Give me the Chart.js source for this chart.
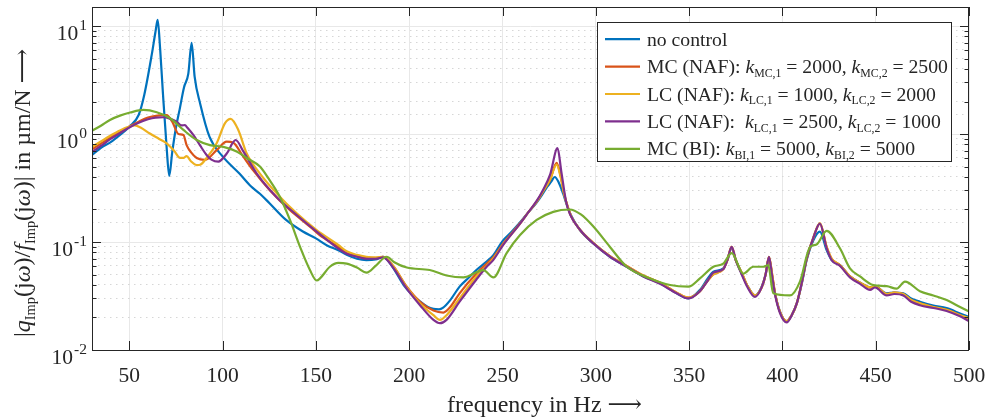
<!DOCTYPE html>
<html>
<head>
<meta charset="utf-8">
<script src="https://cdn.jsdelivr.net/npm/chart.js@4/dist/chart.umd.min.js"></script>
<style>
  html, body { margin: 0; padding: 0; background: #fff; }
  canvas { display: block; }
</style>
</head>
<body>
<canvas id="myChart" width="985" height="419"></canvas>
<script>
// frequency axis (Hz) and magnitude |q/f| (um/N) for each measurement
const fNoControl = [
  30, 35, 40, 45, 50, 55, 58, 62, 64, 65.2,
  66.5, 68, 70, 71.4, 73, 75, 77, 79.3, 81.6, 83.4,
  85, 88, 93, 100, 109, 115, 120, 125, 134, 143,
  150, 156, 162, 166.5, 172, 177, 182, 186, 191, 197,
  202, 206, 210, 213, 216, 218, 222, 227, 232, 236,
  241.5, 245, 250, 255, 259, 264, 268, 271, 274, 276,
  278, 280, 282.5, 284.5, 286.5, 291.5, 298.7, 307.6, 316.6, 325.5,
  334.4, 343.3, 349.6, 355.8, 360, 363, 368.3, 370.5, 372.8, 375,
  378.2, 381, 385.3, 388.9, 391, 392.8, 394.5, 396, 398.7, 402.3,
  405, 407.7, 410.5, 413, 416.6, 420.1, 423.7, 426.4, 430.9, 436.2,
  441.6, 447, 449.6, 455.9, 460, 464.8, 469, 473.7, 480.9, 488,
  495.2, 500
];
const magNoControl = [
  0.64, 0.75, 0.84, 0.98, 1.17, 1.5, 2.3, 5.4, 8.8, 11.4,
  6.2, 2.4, 0.75, 0.41, 0.68, 1.15, 1.7, 2.7, 3.6, 7.0,
  3.4, 1.9, 0.94, 0.62, 0.43, 0.33, 0.28, 0.23, 0.16, 0.125,
  0.108, 0.093, 0.084, 0.076, 0.07, 0.068, 0.069, 0.073, 0.059, 0.04,
  0.032, 0.028, 0.025, 0.024, 0.0238, 0.0245, 0.029, 0.0386, 0.047, 0.055,
  0.066, 0.075, 0.102, 0.125, 0.149, 0.19, 0.228, 0.27, 0.325, 0.36,
  0.40, 0.36, 0.28, 0.22, 0.18, 0.129, 0.097, 0.073, 0.059, 0.048,
  0.0414, 0.0335, 0.030, 0.036, 0.046, 0.053, 0.057, 0.068, 0.0875, 0.068,
  0.051, 0.04, 0.032, 0.0386, 0.05, 0.071, 0.048, 0.0335, 0.0227, 0.0183,
  0.021, 0.027, 0.042, 0.068, 0.104, 0.125, 0.084, 0.068, 0.061, 0.048,
  0.042, 0.038, 0.039, 0.0335, 0.034, 0.0335, 0.03, 0.028, 0.0258, 0.0244,
  0.0218, 0.0202
];

const fMcNaf = [
  30, 35, 40, 45, 50, 55, 60, 65, 70, 73,
  76.3, 79, 80.7, 83, 86.1, 90.6, 96.8, 102.2, 105.7, 111,
  116.4, 125.4, 136, 146.8, 152, 162, 166.5, 172, 177, 182,
  186, 191.4, 198.7, 205.8, 213, 218.3, 222, 227, 236, 241.5,
  245, 250.4, 259.4, 264, 268.3, 272, 275.5, 279, 281, 283,
  285, 287, 291.5, 298.7, 307.6, 316.6, 325.5, 334.4, 343.3, 349.6,
  355.8, 360, 363, 368.3, 370.5, 372.8, 375, 378.2, 381, 385.3,
  388.9, 391, 392.8, 394.5, 396, 398.7, 402.3, 405, 407.7, 410.5,
  413, 416.6, 420.1, 423.7, 426.4, 430.9, 436.2, 441.6, 447, 449.6,
  455.9, 460, 464.8, 469, 473.7, 480.9, 488, 495.2, 500
];
const magMcNaf = [
  0.72, 0.82, 0.93, 1.05, 1.17, 1.3, 1.42, 1.48, 1.5, 1.3,
  1.0, 0.98, 0.79, 0.68, 0.60, 0.575, 0.71, 0.85, 0.83, 0.62,
  0.46, 0.30, 0.198, 0.139, 0.116, 0.090, 0.079, 0.074, 0.072, 0.071,
  0.073, 0.06, 0.0386, 0.028, 0.0232, 0.0222, 0.025, 0.0335, 0.051, 0.063,
  0.072, 0.097, 0.149, 0.19, 0.236, 0.3, 0.375, 0.54, 0.42, 0.28,
  0.21, 0.17, 0.13, 0.098, 0.074, 0.06, 0.049, 0.042, 0.034, 0.0305,
  0.035, 0.044, 0.05, 0.056, 0.068, 0.09, 0.068, 0.052, 0.04, 0.032,
  0.038, 0.05, 0.073, 0.05, 0.034, 0.0225, 0.0185, 0.021, 0.027, 0.043,
  0.07, 0.11, 0.148, 0.09, 0.07, 0.061, 0.048, 0.042, 0.038, 0.039,
  0.033, 0.034, 0.033, 0.029, 0.027, 0.025, 0.0235, 0.021, 0.0195
];

const fLcA = [
  30, 35, 40, 45, 50, 53, 56, 61, 66, 70,
  74, 77.2, 79, 80.7, 83, 86.1, 88, 91.4, 96.8, 101.3,
  104.3, 108.4, 112.9, 120, 129, 139.7, 150.4, 162, 166.5, 172,
  177, 182, 186, 191.4, 198.7, 205.8, 213, 216.5, 220, 227,
  236, 241.5, 245, 250.4, 259.4, 264, 268.3, 272, 275.5, 279,
  281, 283, 285, 287, 291.5, 298.7, 307.6, 316.6, 325.5, 334.4,
  343.3, 349.6, 355.8, 360, 363, 368.3, 370.5, 372.8, 375, 378.2,
  381, 385.3, 388.9, 391, 392.8, 394.5, 396, 398.7, 402.3, 405,
  407.7, 410.5, 413, 416.6, 420.1, 423.7, 426.4, 430.9, 436.2, 441.6,
  447, 449.6, 455.9, 460, 464.8, 469, 473.7, 480.9, 488, 495.2,
  500
];
const magLcA = [
  0.76, 0.86, 0.97, 1.08, 1.17, 1.2, 1.15, 1.01, 0.9, 0.82,
  0.7, 0.60, 0.6, 0.625, 0.56, 0.516, 0.52, 0.60, 0.82, 1.26,
  1.38, 1.09, 0.66, 0.43, 0.282, 0.184, 0.129, 0.094, 0.082, 0.076,
  0.073, 0.072, 0.073, 0.06, 0.038, 0.027, 0.021, 0.019, 0.021, 0.03,
  0.048, 0.06, 0.07, 0.095, 0.148, 0.19, 0.236, 0.3, 0.38, 0.52,
  0.41, 0.28, 0.21, 0.17, 0.13, 0.098, 0.074, 0.06, 0.049, 0.042,
  0.034, 0.0305, 0.035, 0.044, 0.05, 0.056, 0.068, 0.09, 0.068, 0.052,
  0.04, 0.032, 0.038, 0.05, 0.073, 0.05, 0.034, 0.0225, 0.0185, 0.021,
  0.027, 0.043, 0.07, 0.11, 0.15, 0.09, 0.07, 0.061, 0.048, 0.042,
  0.038, 0.039, 0.033, 0.034, 0.033, 0.029, 0.027, 0.025, 0.0235, 0.021,
  0.0198
];

const fLcB = [
  30, 35, 40, 45, 50, 55, 60, 64, 68.2, 72,
  75.4, 78, 79.8, 81, 84.3, 88, 91.4, 94, 97.7, 102.2,
  107, 111.1, 118.3, 129, 139.7, 150.4, 162, 166.5, 172, 177,
  182, 186, 191.4, 198.7, 205.8, 213, 216.5, 220, 227, 236,
  241.5, 245, 250.4, 259.4, 264, 268.3, 272, 275.5, 279.5, 281.5,
  284, 286.2, 291.5, 298.7, 307.6, 316.6, 325.5, 334.4, 343.3, 349.6,
  355.8, 360, 363, 368.3, 370.5, 372.8, 375, 378.2, 381, 385.3,
  388.9, 391, 392.8, 394.5, 396, 398.7, 402.3, 405, 407.7, 410.5,
  413, 416.6, 420.1, 423.7, 426.4, 430.9, 436.2, 441.6, 447, 449.6,
  455.9, 460, 464.8, 469, 473.7, 480.9, 488, 495.2, 500
];
const magLcB = [
  0.68, 0.78, 0.9, 1.02, 1.15, 1.27, 1.37, 1.42, 1.43, 1.38,
  1.30, 1.2, 1.21, 1.15, 0.98, 0.78, 0.64, 0.58, 0.555, 0.66,
  0.88, 0.69, 0.43, 0.26, 0.178, 0.125, 0.087, 0.078, 0.073, 0.07,
  0.07, 0.072, 0.058, 0.037, 0.026, 0.019, 0.0177, 0.019, 0.028, 0.045,
  0.059, 0.068, 0.094, 0.148, 0.19, 0.24, 0.31, 0.42, 0.74, 0.45,
  0.24, 0.18, 0.13, 0.097, 0.073, 0.059, 0.048, 0.041, 0.0335, 0.030,
  0.035, 0.044, 0.052, 0.056, 0.068, 0.09, 0.068, 0.05, 0.039, 0.031,
  0.038, 0.05, 0.073, 0.048, 0.033, 0.022, 0.018, 0.021, 0.027, 0.043,
  0.07, 0.11, 0.148, 0.088, 0.068, 0.06, 0.047, 0.041, 0.036, 0.038,
  0.032, 0.033, 0.032, 0.028, 0.026, 0.0245, 0.023, 0.0205, 0.0185
];

const fMcBi = [
  30, 35, 39.6, 45, 50.4, 57.5, 64.7, 71.8, 79, 86.1,
  93.2, 100.4, 107.5, 112.9, 120, 124.5, 130.8, 136.1, 141.5, 146.8,
  150.4, 152.2, 157.5, 162, 166.5, 172, 177.2, 182, 187.9, 192,
  198.7, 211, 220, 229, 239.7, 245.1, 252.2, 259.4, 268.3, 277.2,
  286, 292, 298.7, 307.6, 316.6, 329.1, 339.8, 349.6, 355.8, 363,
  368.3, 372.8, 379, 384.4, 389.7, 392.4, 395.1, 404, 409.4, 414.8,
  418.3, 423.7, 430.9, 436.2, 441.6, 448.7, 455.9, 461.2, 465.7, 473.7,
  480.9, 488, 495.2, 500
];
const magMcBi = [
  1.07, 1.2, 1.35, 1.48, 1.58, 1.67, 1.59, 1.40, 1.09, 0.88,
  0.79, 0.76, 0.69, 0.60, 0.50, 0.39, 0.26, 0.16, 0.090, 0.055,
  0.044, 0.046, 0.059, 0.064, 0.063, 0.058, 0.052, 0.06, 0.073, 0.065,
  0.058, 0.055, 0.049, 0.047, 0.055, 0.047, 0.079, 0.116, 0.16, 0.19,
  0.20, 0.18, 0.139, 0.090, 0.059, 0.046, 0.040, 0.0386, 0.046, 0.059,
  0.063, 0.079, 0.051, 0.059, 0.059, 0.061, 0.0335, 0.032, 0.043, 0.090,
  0.095, 0.127, 0.087, 0.057, 0.048, 0.040, 0.039, 0.037, 0.043, 0.035,
  0.032, 0.029, 0.025, 0.0227
];

const xTicks = [50, 100, 150, 200, 250, 300, 350, 400, 450, 500];
const yDecades = [-2, -1, 0, 1];

// legend text, split in runs so the subscripts can be drawn smaller
const legendText = [
  [{ t: "no control" }],
  [{ t: "MC (NAF): " }, { t: "k", it: 1 }, { t: "MC,1", sub: 1 }, { t: " = 2000, " }, { t: "k", it: 1 }, { t: "MC,2", sub: 1 }, { t: " = 2500" }],
  [{ t: "LC (NAF): " }, { t: "k", it: 1 }, { t: "LC,1", sub: 1 }, { t: " = 1000, " }, { t: "k", it: 1 }, { t: "LC,2", sub: 1 }, { t: " = 2000" }],
  [{ t: "LC (NAF):  " }, { t: "k", it: 1 }, { t: "LC,1", sub: 1 }, { t: " = 2500, " }, { t: "k", it: 1 }, { t: "LC,2", sub: 1 }, { t: " = 1000" }],
  [{ t: "MC (BI): " }, { t: "k", it: 1 }, { t: "BI,1", sub: 1 }, { t: " = 5000, " }, { t: "k", it: 1 }, { t: "BI,2", sub: 1 }, { t: " = 5000" }]
];
const yTitle = [
  { t: "|" }, { t: "q", it: 1 }, { t: "Imp", sub: 1 }, { t: "(j" }, { t: "ω", it: 1 }, { t: ")/" },
  { t: "f", it: 1 }, { t: "Imp", sub: 1 }, { t: "(j" }, { t: "ω", it: 1 }, { t: ")| in µm/N " }, { t: "⟶" }
];
const xTitle = [{ t: "frequency in Hz " }, { t: "⟶" }];

const colors = ["#0072BD", "#D95319", "#EDB120", "#7E2F8E", "#77AC30"];
const FONT = '"Liberation Serif", "Times New Roman", "DejaVu Serif", serif';
const AXIS = "#262626";

function font(size, italic) {
  return (italic ? "italic " : "") + size + "px " + FONT;
}

//draws a line of text made of runs (italic / subscript parts)
function drawRuns(ctx, x, y, runs, size) {
  runs.forEach(function(r) {
    const s = r.sub ? size * 0.6 : size;
    ctx.font = font(s, r.it);
    ctx.fillText(r.t, x, y + (r.sub ? size * 0.2 : 0));
    x += ctx.measureText(r.t).width;
  });
  return x;
}

function isDecade(v) {
  if (!v) return false;
  const l = Math.log10(v);
  return Math.abs(l - Math.round(l)) < 1e-6;
}

function toPoints(f, m) {
  return f.map(function(x, i) {
    return { x: x, y: m[i] };
  });
}

//box, inside ticks, y labels, titles and legend like the matlab figure
const matlabLook = {
  id: "matlabLook",
  afterDatasetsDraw(chart) {
    const ctx = chart.ctx;
    const a = chart.chartArea;
    const xs = chart.scales.x;
    const ys = chart.scales.y;
    ctx.save();
    ctx.strokeStyle = AXIS;
    ctx.lineWidth = 1;
    ctx.strokeRect(Math.round(a.left) + 0.5, Math.round(a.top) + 0.5,
      Math.round(a.right - a.left) - 1, Math.round(a.bottom - a.top));

    ctx.beginPath();
    xTicks.forEach(function(v) {
      const px = Math.round(xs.getPixelForValue(v)) + 0.5;
      ctx.moveTo(px, a.bottom); ctx.lineTo(px, a.bottom - 9);
      ctx.moveTo(px, a.top); ctx.lineTo(px, a.top + 9);
    });
    yDecades.forEach(function(d) {
      for (let k = 1; k <= 9; k++) {
        const v = k * Math.pow(10, d);
        if (v > ys.max) break;
        const py = Math.round(ys.getPixelForValue(v)) + 0.5;
        const len = k === 1 ? 9 : 4.5;
        ctx.moveTo(a.left, py); ctx.lineTo(a.left + len, py);
        ctx.moveTo(a.right, py); ctx.lineTo(a.right - len, py);
      }
    });
    ctx.stroke();

    // y tick labels 10^d
    ctx.fillStyle = AXIS;
    ctx.textBaseline = "alphabetic";
    yDecades.forEach(function(d) {
      const py = ys.getPixelForValue(Math.pow(10, d));
      ctx.font = font(21.5);
      const w1 = ctx.measureText("10").width;
      ctx.font = font(15.5);
      const w2 = ctx.measureText(String(d)).width;
      const x0 = 86 - w1 - w2;
      ctx.font = font(21.5);
      ctx.fillText("10", x0, py + 13.5);
      ctx.font = font(15.5);
      ctx.fillText(String(d), x0 + w1 + 1, py + 4);
    });

    // axis titles
    drawRuns(ctx, 447, 412, xTitle, 24);
    ctx.save();
    ctx.translate(30, 337);
    ctx.rotate(-Math.PI / 2);
    drawRuns(ctx, 0, 0, yTitle, 24);
    ctx.restore();

    // legend
    ctx.fillStyle = "#fff";
    ctx.fillRect(597.5, 22.5, 354, 139);
    ctx.strokeStyle = AXIS;
    ctx.strokeRect(597.5, 22.5, 354, 139);
    legendText.forEach(function(runs, i) {
      const base = 45.7 + i * 27.4;
      ctx.strokeStyle = colors[i];
      ctx.lineWidth = 2.2;
      ctx.beginPath();
      ctx.moveTo(605, base - 6.5);
      ctx.lineTo(640, base - 6.5);
      ctx.stroke();
      ctx.fillStyle = AXIS;
      drawRuns(ctx, 647, base, runs, 19.7);
    });
    ctx.restore();
  }
};

const series = [
  [fNoControl, magNoControl],
  [fMcNaf, magMcNaf],
  [fLcA, magLcA],
  [fLcB, magLcB],
  [fMcBi, magMcBi]
];
const names = ["no control", "MC (NAF)", "LC (NAF) 1000/2000", "LC (NAF) 2500/1000", "MC (BI)"];

let myChart = new Chart(document.getElementById("myChart").getContext("2d"), {
  type: "line",
  data: {
    datasets: series.map(function(s, i) {
      return {
        label: names[i],
        data: toPoints(s[0], s[1]),
        borderColor: colors[i],
        borderWidth: 2.2,
        pointRadius: 0,
        fill: false,
        cubicInterpolationMode: "monotone",
        order: 4 - i
      };
    })
  },
  options: {
    responsive: false,
    animation: false,
    events: [],
    layout: { padding: { left: 0, right: 16, top: 7, bottom: 0 } },
    plugins: { legend: { display: false }, tooltip: { enabled: false } },
    scales: {
      x: {
        type: "linear",
        min: 30,
        max: 500,
        afterFit: function(s) {
          s.height = 69;
          s.paddingLeft = 0;
          s.paddingRight = 0;
        },
        afterBuildTicks: function(s) {
          s.ticks = xTicks.map(function(v) { return { value: v }; });
        },
        ticks: {
          autoSkip: false,
          maxRotation: 0,
          padding: 13,
          color: AXIS,
          font: { family: FONT, size: 21.5 }
        },
        grid: { color: "#e8e8e8", lineWidth: 1, drawTicks: false },
        border: { display: false }
      },
      y: {
        type: "logarithmic",
        min: 0.01,
        max: 15,
        afterFit: function(s) {
          s.width = 92;
          s.paddingTop = 0;
          s.paddingBottom = 0;
        },
        ticks: { display: false, autoSkip: false },
        grid: {
          drawTicks: false,
          lineWidth: 1,
          color: function(c) {
            const v = c.tick ? c.tick.value : 0;
            if (v > 10.5) return "rgba(0,0,0,0)";
            return isDecade(v) ? "#e8e8e8" : "#d6d6d6";
          }
        },
        border: {
          display: false,
          dash: function(c) {
            return c.tick && !isDecade(c.tick.value) ? [1.5, 4.5] : [];
          }
        }
      }
    }
  },
  plugins: [matlabLook]
});
</script>
</body>
</html>
